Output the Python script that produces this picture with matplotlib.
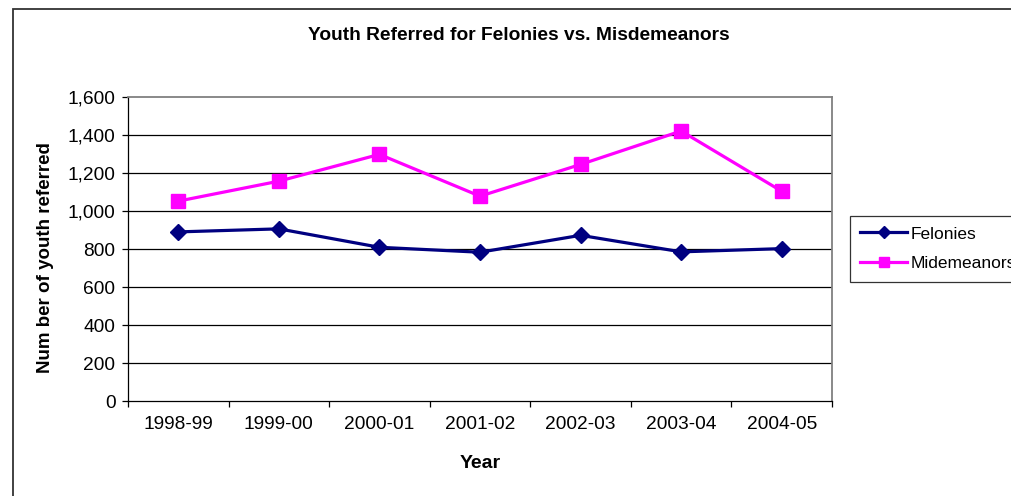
import matplotlib
matplotlib.use("Agg")
import matplotlib.pyplot as plt
from matplotlib.patches import Rectangle

plt.rcParams["font.family"] = ["Liberation Sans", "DejaVu Sans"]

years = ["1998-99", "1999-00", "2000-01", "2001-02", "2002-03", "2003-04", "2004-05"]
felonies = [890, 906, 809, 783, 872, 785, 802]
misdemeanors = [1052, 1157, 1298, 1078, 1245, 1421, 1104]
y_ticks = [0, 200, 400, 600, 800, 1000, 1200, 1400, 1600]

W, H = 1011, 496
fig = plt.figure(figsize=(W / 100, H / 100), dpi=100)
fig.patch.set_facecolor("white")

# outer chart border (right and bottom fall outside the crop)
fig.add_artist(Rectangle((13 / W, -0.2), 2.0, 1 - 9 / H + 0.2, fill=False,
                         edgecolor="#333333", lw=1.3, transform=fig.transFigure))

ax = fig.add_axes([128 / W, (H - 401) / H, 704 / W, 304 / H])
x = list(range(len(years)))

for y in y_ticks[1:-1]:
    ax.axhline(y, color="black", lw=0.9, zorder=1)

ax.plot(x, felonies, color="#000080", lw=2.3, marker="D", markersize=8.5,
        label="Felonies", zorder=3)
ax.plot(x, misdemeanors, color="#FF00FF", lw=2.3, marker="s", markersize=10,
        label="Midemeanors", zorder=3)

ax.set_xlim(-0.5, len(years) - 0.5)
ax.set_ylim(0, 1600)
ax.set_xticks(x)
ax.set_xticklabels(years)
ax.set_xticks([i - 0.5 for i in range(len(years) + 1)], minor=True)
ax.tick_params(axis="x", which="major", length=0, pad=11, labelsize=13.8)
ax.tick_params(axis="x", which="minor", length=4, direction="out", width=0.9)
ax.set_yticks(y_ticks)
ax.set_yticklabels([f"{v:,}" for v in y_ticks])
ax.tick_params(axis="y", length=4, width=0.9, pad=5, labelsize=13.8)

for side in ["left", "bottom"]:
    ax.spines[side].set_color("black")
    ax.spines[side].set_linewidth(0.9)
for side in ["top", "right"]:
    ax.spines[side].set_color("#808080")
    ax.spines[side].set_linewidth(1.3)

fig.text(519 / W, 1 - 35 / H, "Youth Referred for Felonies vs. Misdemeanors",
         ha="center", va="center", fontsize=13.8, fontweight="bold")
fig.text(480 / W, 1 - 463 / H, "Year", ha="center", va="center",
         fontsize=14, fontweight="bold")
fig.text(46 / W, 1 - 258 / H, "Num ber of youth referred", ha="center",
         va="center", rotation=90, fontsize=13.5, fontweight="bold")

leg = fig.legend(loc="upper left", bbox_to_anchor=(850 / W, 1 - 216 / H),
                 frameon=True, fancybox=False, fontsize=12.5, handlelength=2.7,
                 handletextpad=0.2, borderpad=0.6, labelspacing=0.85,
                 borderaxespad=0)
leg.get_frame().set_edgecolor("black")
leg.get_frame().set_linewidth(0.9)
for h in leg.legend_handles:
    h.set_markersize(6.5)

fig.savefig("out.png", dpi=100)
